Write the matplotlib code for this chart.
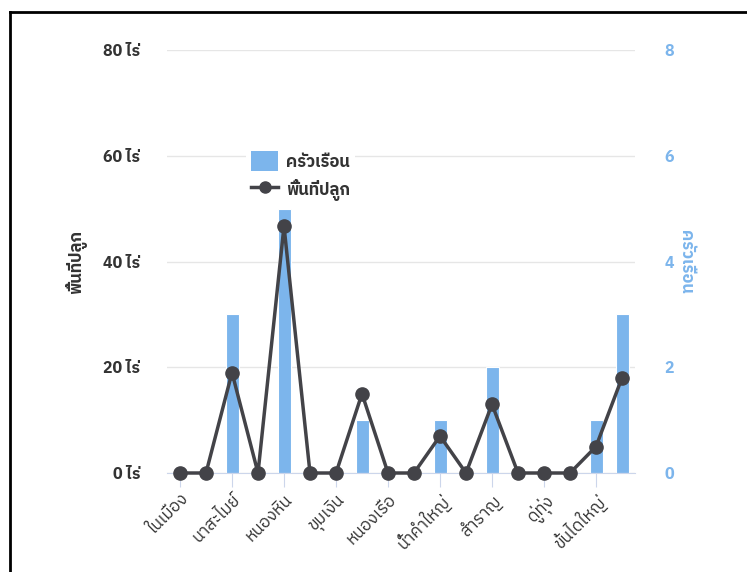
import matplotlib
matplotlib.use("Agg")
import matplotlib.pyplot as plt
from matplotlib import font_manager
from matplotlib.lines import Line2D
from matplotlib.patches import Patch
from fontTools.ttLib import TTFont

# sub-districts (only every other name is shown on the axis)
districts = ["ในเมือง", "สิงห์", "นาสะไมย์", "เขื่องคำ", "หนองหิน", "หนองคู",
             "ขุมเงิน", "ทุ่งนางโอก", "หนองเรือ", "หนองเป็ด", "น้ำคำใหญ่", "ตาดทอง",
             "สำราญ", "ค้อเหนือ", "ดู่ทุ่ง", "เดิด", "ขั้นไดใหญ่", "ทุ่งแต้"]
households = [0, 0, 3, 0, 5, 0, 0, 1, 0, 0, 1, 0, 2, 0, 0, 0, 1, 3]
area_rai = [0, 0, 19, 0, 46.7, 0, 0, 15, 0, 0, 7, 0, 13, 0, 0, 0, 5, 18]
left_ticks = [0, 20, 40, 60, 80]
right_ticks = [0, 2, 4, 6, 8]


# find a font that can draw Thai
def find_thai_font():
    found = []
    for f in font_manager.fontManager.ttflist:
        try:
            cmap = TTFont(f.fname, fontNumber=0, lazy=True).getBestCmap()
        except Exception:
            continue
        if cmap and 0x0E01 in cmap:
            found.append(f.name)
    for name in found:
        if "Sans" in name and "Mono" not in name:
            return name
    return found[0] if found else "DejaVu Sans"


thai = find_thai_font()
plt.rcParams['font.family'] = [thai, 'DejaVu Sans']

blue = "#7cb5ec"
dark = "#434348"
text_col = "#333333"

fig = plt.figure(figsize=(7.47, 5.72), dpi=100)
ax = fig.add_axes([167 / 747, 99 / 572, 468 / 747, 423 / 572])
ax2 = ax.twinx()

x = list(range(len(districts)))

# bars on the right axis, drawn underneath
ax2.bar(x, households, width=0.5, color=blue, edgecolor="white", linewidth=0.8, zorder=2)
ax2.set_ylim(0, 8)
ax2.set_yticks(right_ticks)
ax2.set_yticklabels([str(t) for t in right_ticks], color=blue, fontweight="bold", fontsize=11.5)
ax2.grid(axis="y", color="#e6e6e6", linewidth=1)
ax2.set_axisbelow(True)
ax2.tick_params(axis="y", length=0, pad=21)
ax2.set_ylabel("ครัวเรือน", color=blue, fontweight="bold", fontsize=12, rotation=-90, labelpad=14)

# line on the left axis, on top
ax.set_zorder(ax2.get_zorder() + 1)
ax.patch.set_visible(False)
ax.plot(x, area_rai, color=dark, linewidth=2.5, marker="o", markersize=9.5, zorder=3, clip_on=False)
ax.set_ylim(0, 80)
ax.set_yticks(left_ticks)
ax.set_yticklabels([f"{t} ไร่" for t in left_ticks], color=text_col, fontweight="bold", fontsize=11.5)
ax.tick_params(axis="y", length=0, pad=19)
ax.set_ylabel("พื้นที่ปลูก", color=text_col, fontweight="bold", fontsize=12, labelpad=12)

ax.set_xlim(-0.5, len(districts) - 0.5)
ax.set_xticks(x[::2])
ax.set_xticklabels(districts[::2], rotation=45, ha="right", rotation_mode="anchor",
                   color=text_col, fontsize=12)
ax.tick_params(axis="x", length=10, color="#ccd6eb", pad=3)

for a in (ax, ax2):
    for s in a.spines.values():
        s.set_visible(False)
ax.spines["bottom"].set_visible(True)
ax.spines["bottom"].set_color("#ccd6eb")

handles = [Patch(facecolor=blue, edgecolor="none"),
           Line2D([0], [0], color=dark, linewidth=2.5, marker="o", markersize=8)]
leg = ax.legend(handles, ["ครัวเรือน", "พื้นที่ปลูก"], loc="upper left",
                bbox_to_anchor=(238 / 747, 1 - 138 / 572), bbox_transform=fig.transFigure,
                frameon=True, facecolor="white", edgecolor="none", framealpha=1,
                prop={"weight": "bold", "size": 12}, handlelength=1.6, handleheight=1.45,
                borderpad=0.3, labelspacing=0.45, handletextpad=0.5)
for t in leg.get_texts():
    t.set_color(text_col)

# screenshot frame (top and left edges)
fig.add_artist(Line2D([10 / 747, 10 / 747], [0, 1 - 12 / 572], color="black", linewidth=2,
                      transform=fig.transFigure))
fig.add_artist(Line2D([10 / 747, 1], [1 - 12 / 572, 1 - 12 / 572], color="black", linewidth=2,
                      transform=fig.transFigure))

fig.savefig("out.png", dpi=100)
